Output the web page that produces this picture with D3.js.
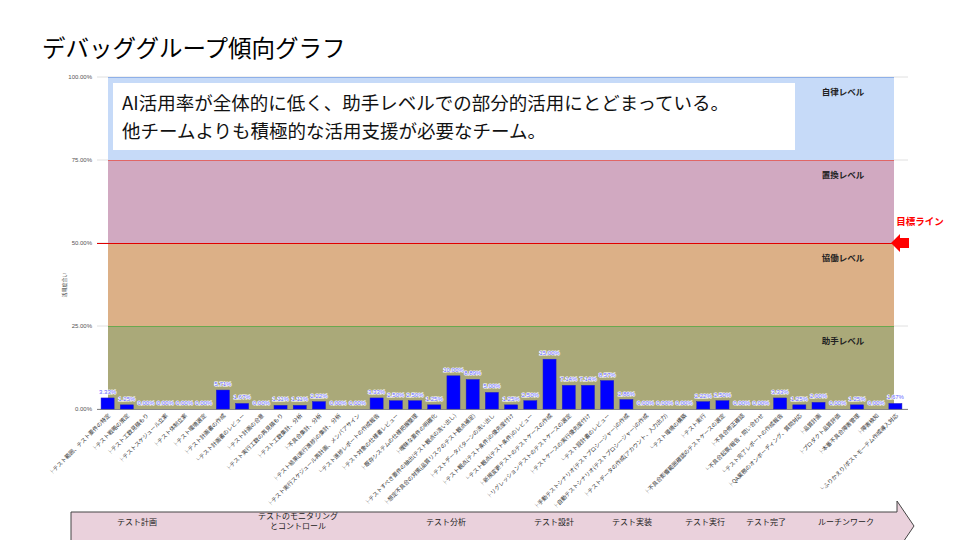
<!DOCTYPE html>
<html><head><meta charset="utf-8">
<script src="https://cdn.jsdelivr.net/npm/d3@7"></script>
<style>
body{margin:0;background:#fff;}
svg{display:block;font-family:"Noto Sans CJK JP","Noto Sans",sans-serif;}
</style></head>
<body><svg id="c" width="960" height="540"></svg>
<script>
const categories = [
"├テスト範囲、テスト要件の特定","├テスト戦略の策定","├テスト工数見積もり","├テストスケジュール立案","├テスト体制立案","├テスト環境選定","├テスト計画書の作成","└テスト計画書のレビュー","├テスト計画の合意",
"├テスト実行工数の再見積もり","├テスト工数集計、分析","├不具合集計、分析","├テスト結果(実行進捗)の集計、分析","├テスト実行スケジュール再計画、メンバアサイン","└テスト進捗レポートの作成報告",
"├テスト対象の仕様書レビュー","├既存システムの仕様把握整理","├曖昧な要件の明確化","├テストすべき要件の抽出(テスト観点の洗い出し)","├想定不具合の対策(品質リスクのテスト観点補足)","├テストデータパターンの洗い出し","├テスト観点(テスト条件)の優先度付け","└テスト観点(テスト条件)のレビュー",
"├新規変更テストのテストケースの作成","├リグレッションテストのテストケースの選定","├テストケースの実行優先度付け","└テスト設計書のレビュー",
"├手動テストシナリオ(テストプロシージャー)の作成","├自動テストシナリオ(テストプロシージャー)の作成","├テストデータの作成(アカウント、入力出力)","└テスト環境の構築",
"├テスト実行","├不具合影響範囲確認のテストケースの選定","├不具合修正確認","└不具合起票/報告・問い合わせ",
"└テスト完了レポートの作成報告",
"├QA業務のオンボーディング、質問対応","├品質計画","├プロダクト品質評価","├本番不具合障害管理","├障害検知","└ふりかえり/ポストモーテム作成導入対応"
];
const values = [3.33,1.25,0,0,0,0,5.71,1.67,0,1.11,1.11,2.22,0,0,3.33,2.50,2.50,1.25,10.00,8.89,5.00,1.25,2.50,15.00,7.14,7.14,8.57,2.86,0,0,0,2.22,2.50,0,0,3.33,1.25,2.00,0,1.25,0,1.67];
const yTicks = [0,25,50,75,100];
const levels = [
  {name:"助手レベル", from:0, to:25},
  {name:"協働レベル", from:25, to:50},
  {name:"置換レベル", from:50, to:75},
  {name:"自律レベル", from:75, to:100}
];
const phases = ["テスト計画","テストのモニタリング\nとコントロール","テスト分析","テスト設計","テスト実装","テスト実行","テスト完了","ルーチンワーク"];
const targetValue = 50;
const title = "デバッググループ傾向グラフ";
const noteLines = ["AI活用率が全体的に低く、助手レベルでの部分的活用にとどまっている。","他チームよりも積極的な活用支援が必要なチーム。"];

// layout
const levelColors = ["#aaa979","#dcb087","#d1a9c1","#c6daf8"];
const levelLineColors = ["#6aa84f","#e00000","#e06666","#8fb0e8"];
const phaseX = [137,298,446,554,632,705,766,846];

const svg = d3.select("#c");
const x = d3.scaleBand().domain(categories.map((d,i)=>i)).range([98,905]).paddingInner(0.32).paddingOuter(0.16);
const y = d3.scaleLinear().domain([0,100]).range([409,77]);

svg.append("text").attr("x",42).attr("y",57).attr("font-size",23.5).attr("fill","#000").text(title);

// gridlines
svg.append("g").selectAll("line").data(yTicks).join("line")
  .attr("x1",97).attr("x2",908).attr("y1",d=>y(d)).attr("y2",d=>y(d))
  .attr("stroke","#e0e0e0").attr("stroke-width",1);

// level bands
const bx0 = 108, bx1 = 894;
svg.append("g").selectAll("rect").data(levels).join("rect")
  .attr("x",bx0).attr("width",bx1-bx0)
  .attr("y",d=>y(d.to)).attr("height",d=>y(d.from)-y(d.to))
  .attr("fill",(d,i)=>levelColors[i]);
svg.append("g").selectAll("line").data(levels).join("line")
  .attr("x1",(d,i)=>i===1?97:bx0).attr("x2",bx1)
  .attr("y1",d=>y(d.to)+0.5).attr("y2",d=>y(d.to)+0.5)
  .attr("stroke",(d,i)=>levelLineColors[i]).attr("stroke-width",1);
svg.append("g").selectAll("text").data(levels).join("text")
  .attr("x",843).attr("y",d=>y(d.to)+18).attr("text-anchor","middle")
  .attr("font-size",8.5).attr("font-weight","bold").attr("fill","#222").text(d=>d.name);

// y axis
const yAxis = svg.append("g").attr("transform","translate(95,0)")
  .call(d3.axisLeft(y).tickValues(yTicks).tickSize(0).tickFormat(d=>d.toFixed(2)+"%"));
yAxis.select(".domain").remove();
yAxis.selectAll("text").attr("font-size",6).attr("fill","#555").attr("font-family","Arial, 'Liberation Sans', sans-serif");
svg.append("text").attr("transform","translate(66,285) rotate(-90)").attr("text-anchor","middle")
  .attr("font-size",5).attr("fill","#444").text("活用度合い");

// baseline
svg.append("line").attr("x1",97).attr("x2",908).attr("y1",y(0)+0.5).attr("y2",y(0)+0.5).attr("stroke","#888");

// note box
svg.append("rect").attr("x",113).attr("y",83).attr("width",682).attr("height",67).attr("fill","#fff");
svg.append("g").selectAll("text").data(noteLines).join("text")
  .attr("x",122).attr("y",(d,i)=>110+i*28).attr("font-size",18.5).attr("fill","#111").text(d=>d);

// bars
svg.append("g").selectAll("rect").data(values).join("rect")
  .attr("x",(d,i)=>x(i)).attr("width",x.bandwidth())
  .attr("y",d=>y(d)).attr("height",d=>y(0)-y(d))
  .attr("fill","#0000ff").attr("stroke","#2020c0").attr("stroke-width",0.5);
svg.append("g").selectAll("text").data(values).join("text")
  .attr("x",(d,i)=>x(i)+x.bandwidth()/2).attr("y",d=>y(d)-4)
  .attr("text-anchor","middle").attr("font-size",6)
  .attr("font-family","Arial, 'Liberation Sans', sans-serif")
  .attr("fill","#6464ff").attr("stroke","#fff").attr("stroke-width",1.2).attr("paint-order","stroke")
  .text(d=>d.toFixed(2)+"%");

// category labels
svg.append("g").selectAll("text").data(categories).join("text")
  .attr("transform",(d,i)=>`translate(${x(i)+x.bandwidth()/2+3},416) rotate(-45)`)
  .attr("text-anchor","end").attr("font-size",5.6).attr("fill","#333").text(d=>d);

// target line marker
svg.append("text").attr("x",920).attr("y",225).attr("text-anchor","middle").attr("font-size",9.5)
  .attr("font-weight","bold").attr("fill","#ff0000").text("目標ライン");
const ty = y(targetValue);
svg.append("path").attr("d",`M891,${ty} L900,${ty-9} L900,${ty-5} L909,${ty-5} L909,${ty+5} L900,${ty+5} L900,${ty+9} Z`)
  .attr("fill","#ff0000");

// phase arrow
svg.append("path").attr("d","M71,512 L897,512 L897,501 L914,526 L897,551 L897,541 L71,541 Z")
  .attr("fill","#ead1dc").attr("stroke","#444").attr("stroke-width",1);
const pg = svg.append("g");
phases.forEach((p,i)=>{
  const lines = p.split("\n");
  const t = pg.append("text").attr("x",phaseX[i]).attr("text-anchor","middle").attr("font-size",8).attr("fill","#222");
  lines.forEach((l,j)=>{
    t.append("tspan").attr("x",phaseX[i]).attr("y",lines.length>1?519+j*10:525).text(l);
  });
});
</script></body></html>
